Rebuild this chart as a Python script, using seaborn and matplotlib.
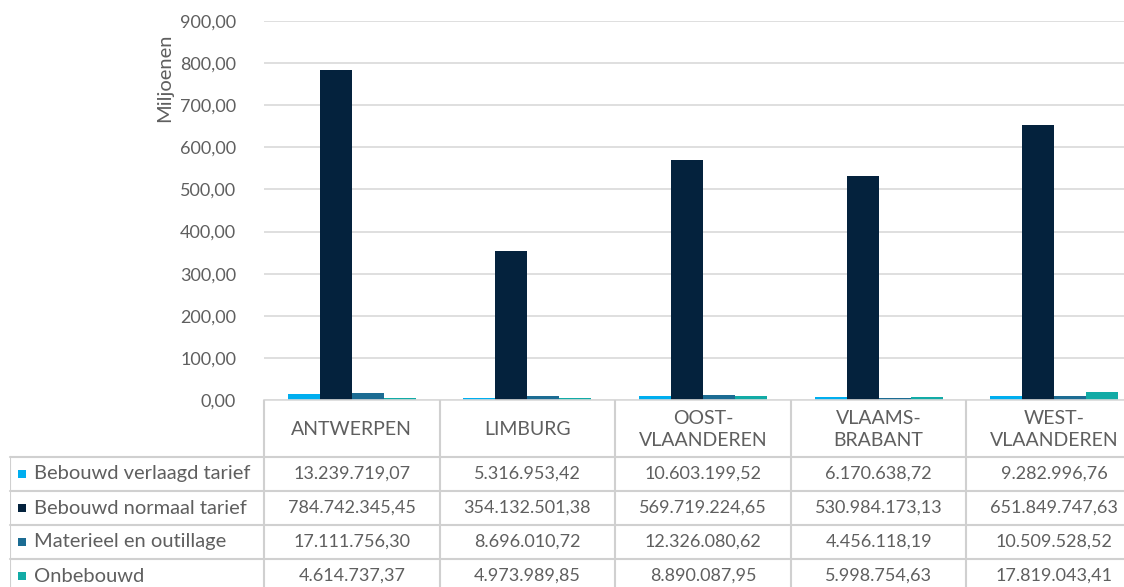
import matplotlib
matplotlib.use("Agg")
import matplotlib.pyplot as plt
import seaborn as sns
import pandas as pd

categories = ["ANTWERPEN", "LIMBURG", "OOST-\nVLAANDEREN", "VLAAMS-\nBRABANT", "WEST-\nVLAANDEREN"]
series = ["Bebouwd verlaagd tarief", "Bebouwd normaal tarief", "Materieel en outillage", "Onbebouwd"]
verlaagd = [13239719.07, 5316953.42, 10603199.52, 6170638.72, 9282996.76]
normaal = [784742345.45, 354132501.38, 569719224.65, 530984173.13, 651849747.63]
materieel = [17111756.30, 8696010.72, 12326080.62, 4456118.19, 10509528.52]
onbebouwd = [4614737.37, 4973989.85, 8890087.95, 5998754.63, 17819043.41]
yticks = [0, 100, 200, 300, 400, 500, 600, 700, 800, 900]
colors = ["#00AEEF", "#04223D", "#1C6C93", "#12ABA6"]

values = [verlaagd, normaal, materieel, onbebouwd]
rows = []
for s, vals in zip(series, values):
    for c, v in zip(categories, vals):
        rows.append({"cat": c, "series": s, "val": v / 1e6})
df = pd.DataFrame(rows)

def fmt_nl(v, dec=2):
    s = f"{v:,.{dec}f}"
    return s.replace(",", "X").replace(".", ",").replace("X", ".")

sns.set_theme(style="white")
plt.rcParams["font.family"] = ["Lato", "DejaVu Sans"]
TXT = "#5F5F5F"
GRID = "#D9D9D9"
FS_NUM = 13
FS_TXT = 14.5

W, H = 1124, 587
fig = plt.figure(figsize=(W / 100, H / 100), dpi=100)

# main plot area: x 264 -> 1142 px, y 21 -> 400 px
left, right, top, bottom = 264, 1142, 21, 400
ax = fig.add_axes([left / W, 1 - bottom / H, (right - left) / W, (bottom - top) / H])
sns.barplot(data=df, x="cat", y="val", hue="series", palette=colors, width=0.73,
            saturation=1, ax=ax, legend=False, edgecolor="none", linewidth=0)
ax.set_xlim(-0.5, len(categories) - 0.5)
ax.set_ylim(0, 900)
ax.set_yticks(yticks)
ax.set_yticklabels([fmt_nl(t) for t in yticks], color=TXT, fontsize=FS_NUM)
ax.tick_params(axis="y", length=0, pad=20)
ax.set_xticks([])
ax.set_xlabel("")
ax.set_ylabel("Miljoenen", color=TXT, fontsize=FS_TXT, labelpad=4)
ax.yaxis.set_label_coords(-0.104, 0.85)
ax.grid(axis="y", color=GRID, linewidth=1.2)
ax.set_axisbelow(True)
for sp in ["top", "right", "left"]:
    ax.spines[sp].set_visible(False)
ax.spines["bottom"].set_color(GRID)
ax.spines["bottom"].set_linewidth(1.2)

# data table
tleft = 10
unit = (right - left) / len(categories)
xmin = -0.5 - (left - tleft) / unit
tb_top, tb_h = 400, 193
tax = fig.add_axes([tleft / W, 1 - (tb_top + tb_h) / H, (right - tleft) / W, tb_h / H])
tax.set_xlim(xmin, len(categories) - 0.5)
tax.set_ylim(tb_h, 0)
tax.axis("off")
LC = "#D0D0D0"
lw = 1.5
header_h = 57
row_h = 34
row_edges = [header_h + i * row_h for i in range(len(series) + 1)]
for y in row_edges:
    tax.plot([xmin, len(categories) - 0.5], [y, y], color=LC, lw=lw, clip_on=False)
for i in range(len(categories) + 1):
    tax.plot([i - 0.5, i - 0.5], [0, tb_h], color=LC, lw=lw)
tax.plot([xmin, xmin], [header_h, tb_h], color=LC, lw=lw)
for i, c in enumerate(categories):
    tax.text(i, header_h / 2 + 1, c, ha="center", va="center", fontsize=FS_TXT - 0.5,
             color=TXT, linespacing=1.35)
for r, (s, vals, col) in enumerate(zip(series, values, colors)):
    yc = header_h + r * row_h + row_h / 2
    tax.scatter([xmin + 12 / unit], [yc], marker="s", s=34, color=col, clip_on=False,
                linewidths=0)
    tax.text(xmin + 24 / unit, yc, s, ha="left", va="center", fontsize=FS_TXT, color=TXT)
    for i, v in enumerate(vals):
        tax.text(i, yc, fmt_nl(v), ha="center", va="center", fontsize=FS_NUM, color=TXT)

fig.savefig("out.png", dpi=100)
